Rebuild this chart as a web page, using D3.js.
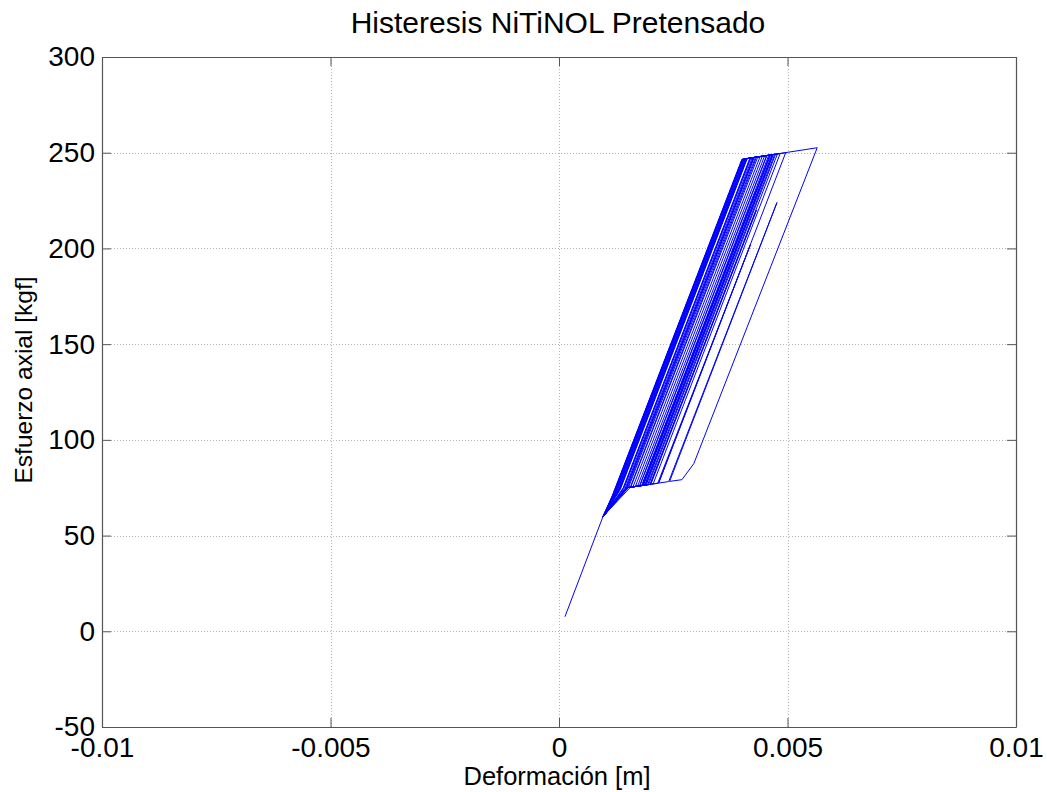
<!DOCTYPE html>
<html><head><meta charset="utf-8">
<script src="https://cdn.jsdelivr.net/npm/d3@7"></script>
<style>body{margin:0;background:#fff} text{font-family:"Liberation Sans",Arial,Helvetica,sans-serif;fill:#000}</style>
</head><body><svg id="c" width="1047" height="792"></svg>
<script>
// Deformación [m] (strain) and Esfuerzo axial [kgf] (force), vertex sequence of the response
const strain = [
  0.00013, 0.00096,
  0.00116, 0.00401, 0.00418, 0.00141, 0.00096,
  0.00122, 0.00403, 0.00445, 0.00167, 0.00149, 0.00097,
  0.00130, 0.00409, 0.00459, 0.00181, 0.00176, 0.00454, 0.00462, 0.00184, 0.00149, 0.00096,
  0.00118, 0.00401, 0.00496, 0.00218, 0.00419, 0.00216, 0.00149, 0.00096,
  0.00121, 0.00402, 0.00565, 0.00295, 0.00269, 0.00242, 0.00477, 0.00240, 0.00149, 0.00097,
  0.00125, 0.00405, 0.00466, 0.00188, 0.00149, 0.00096,
  0.00134, 0.00412, 0.00472, 0.00194, 0.00190, 0.00468, 0.00478, 0.00200, 0.00149, 0.00096,
  0.00140, 0.00418, 0.00463, 0.00185, 0.00149, 0.00097,
  0.00145, 0.00423, 0.00484, 0.00206, 0.00201, 0.00432, 0.00199, 0.00149, 0.00096,
  0.00150, 0.00427, 0.00466, 0.00188, 0.00150, 0.00096,
  0.00127, 0.00407, 0.00455, 0.00177, 0.00149, 0.00097,
  0.00133, 0.00411, 0.00440, 0.00162, 0.00149, 0.00096,
  0.00156, 0.00432, 0.00474, 0.00196, 0.00149, 0.00096,
  0.00142, 0.00420, 0.00450, 0.00172, 0.00149, 0.00097,
  0.00124, 0.00405, 0.00430, 0.00152, 0.00096,
  0.00131, 0.00410, 0.00469, 0.00191, 0.00183, 0.00433, 0.00181, 0.00149, 0.00096,
  0.00147, 0.00425, 0.00461, 0.00183, 0.00149, 0.00097,
  0.00119, 0.00401, 0.00435, 0.00157, 0.00149, 0.00096,
  0.00128, 0.00408, 0.00426, 0.00148, 0.00096,
  0.00116, 0.00400, 0.00410, 0.00133, 0.00096
];
const force = [
  7.6, 59.8,
  70.0, 246.5, 247.2, 75.0, 59.8,
  72.2, 246.6, 248.2, 75.6, 75.0, 60.2,
  73.8, 246.8, 248.7, 76.1, 75.9, 248.4, 248.8, 76.2, 75.0, 59.9,
  71.2, 246.5, 250.0, 77.4, 202.0, 77.3, 75.0, 59.8,
  72.0, 246.6, 252.6, 87.6, 79.2, 78.3, 224.0, 78.2, 75.0, 60.0,
  73.0, 246.7, 248.9, 76.4, 75.0, 59.8,
  74.0, 247.0, 249.2, 76.6, 76.5, 249.0, 249.4, 76.8, 75.0, 59.9,
  74.4, 247.2, 248.8, 76.3, 75.0, 60.1,
  74.8, 247.4, 249.6, 77.0, 76.8, 220.0, 76.7, 75.0, 59.8,
  75.0, 247.5, 248.9, 76.4, 75.1, 59.8,
  73.4, 246.8, 248.5, 76.0, 75.0, 60.0,
  74.0, 246.9, 248.0, 75.5, 75.0, 59.9,
  75.2, 247.6, 249.3, 76.7, 75.0, 59.8,
  74.6, 247.3, 248.4, 75.8, 75.0, 60.0,
  72.8, 246.7, 247.6, 75.1, 59.8,
  73.8, 246.9, 249.1, 76.5, 76.2, 231.0, 76.1, 75.0, 59.9,
  74.9, 247.4, 248.7, 76.2, 75.0, 60.1,
  71.8, 246.5, 247.8, 75.3, 75.0, 59.8,
  73.6, 246.8, 247.4, 75.0, 59.8,
  70.5, 246.5, 246.9, 74.6, 59.8
];
const xTicks = [-0.01, -0.005, 0, 0.005, 0.01];
const xTickLabels = ["-0.01", "-0.005", "0", "0.005", "0.01"];
const yTicks = [-50, 0, 50, 100, 150, 200, 250, 300];
const yTickLabels = ["-50", "0", "50", "100", "150", "200", "250", "300"];
const titleText = "Histeresis NiTiNOL Pretensado";
const xLabelText = "Deformación [m]";
const yLabelText = "Esfuerzo axial [kgf]";

const svg = d3.select("#c");
svg.append("rect").attr("width", 1047).attr("height", 792).attr("fill", "#fff");
const L = 102, R = 1016, T = 57, B = 727;
const x = d3.scaleLinear().domain([-0.01, 0.01]).range([L, R]);
const y = d3.scaleLinear().domain([-50, 300]).range([B, T]);

// grid
const grid = svg.append("g").attr("stroke", "#b4b4b4").attr("stroke-width", 1).attr("stroke-dasharray", "1,2");
grid.selectAll("line.gx").data(xTicks).join("line").attr("class", "gx")
  .attr("x1", d => Math.round(x(d)) + 0.5).attr("x2", d => Math.round(x(d)) + 0.5).attr("y1", T).attr("y2", B);
grid.selectAll("line.gy").data(yTicks).join("line").attr("class", "gy")
  .attr("y1", d => Math.round(y(d)) + 0.5).attr("y2", d => Math.round(y(d)) + 0.5).attr("x1", L).attr("x2", R);

// data line
const pts = strain.map((s, i) => [s, force[i]]);
svg.append("path").datum(pts)
  .attr("d", d3.line().x(d => x(d[0])).y(d => y(d[1])))
  .attr("fill", "none").attr("stroke", "#0000ff").attr("stroke-width", 1).attr("stroke-linejoin", "miter");

// axes
const axCol = "#555";
function styleAxis(g, showText) {
  g.select(".domain").attr("stroke", axCol).attr("stroke-width", 1.2);
  g.selectAll(".tick line").attr("stroke", axCol);
  g.selectAll(".tick text").attr("font-size", 28).attr("fill", "#000")
    .attr("font-family", '"Liberation Sans",Arial,sans-serif');
  if (!showText) g.selectAll(".tick text").remove();
}
const xb = svg.append("g").attr("transform", `translate(0,${B})`)
  .call(d3.axisBottom(x).tickValues(xTicks).tickFormat((d, i) => xTickLabels[i]).tickSizeInner(-9).tickSizeOuter(0).tickPadding(10));
styleAxis(xb, true);
const xt = svg.append("g").attr("transform", `translate(0,${T})`)
  .call(d3.axisTop(x).tickValues(xTicks).tickSizeInner(-9).tickSizeOuter(0));
styleAxis(xt, false);
const yl = svg.append("g").attr("transform", `translate(${L},0)`)
  .call(d3.axisLeft(y).tickValues(yTicks).tickFormat((d, i) => yTickLabels[i]).tickSizeInner(-9).tickSizeOuter(0).tickPadding(7));
styleAxis(yl, true);
const yr = svg.append("g").attr("transform", `translate(${R},0)`)
  .call(d3.axisRight(y).tickValues(yTicks).tickSizeInner(-9).tickSizeOuter(0));
styleAxis(yr, false);

// texts
svg.append("text").attr("x", 558).attr("y", 33).attr("text-anchor", "middle")
  .attr("font-size", 30).text(titleText);
svg.append("text").attr("x", 557).attr("y", 785).attr("text-anchor", "middle")
  .attr("font-size", 25.5).text(xLabelText);
svg.append("text").attr("transform", "translate(32,380) rotate(-90)").attr("text-anchor", "middle")
  .attr("font-size", 24.5).text(yLabelText);
</script></body></html>
